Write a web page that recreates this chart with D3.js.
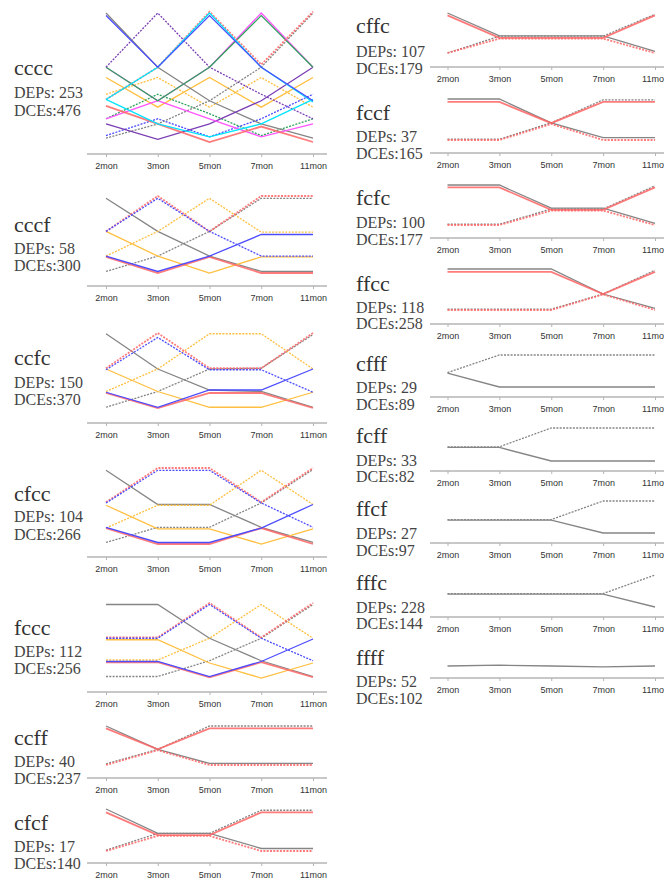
<!DOCTYPE html>
<html>
<head>
<meta charset="utf-8">
<script src="https://cdn.jsdelivr.net/npm/d3@7"></script>
<style>
  body { margin: 0; background: #fff; }
</style>
</head>
<body>
<div id="chart"></div>
<script>
const months = ["2mon", "3mon", "5mon", "7mon", "11mon"];
const patterns = ["cccc", "cccf", "ccfc", "cfcc", "fccc", "ccff", "cfcf",
                  "cffc", "fccf", "fcfc", "ffcc", "cfff", "fcff", "ffcf", "fffc", "ffff"];
const deps = [253, 58, 150, 104, 112, 40, 17, 107, 37, 100, 118, 29, 33, 27, 228, 52];
const dces = [476, 300, 370, 266, 256, 237, 140, 179, 165, 177, 258, 89, 82, 97, 144, 102];

// relative expression level (0 = lowest line, 100 = highest) at each month
// series: [group, kind, values]
const cccc = [
  ["orange", "solid", [50, 27, 50, 27, 50]],
  ["orange", "dash", [37, 50, 27, 50, 27]],
  ["green", "dash", [18, 37, 22, 5, 18]],
  ["blue", "dash", [5, 18, 4, 18, 37]],
  ["purple", "dash", [58, 100, 58, 37, 18]],
  ["gray", "dash", [3, 14, 32, 58, 100]],
  ["gray", "solid", [100, 58, 32, 14, 3]],
  ["purple", "solid", [14, 2, 14, 32, 58]],
  ["magenta", "solid", [58, 32, 18, 4, 14]],
  ["magenta", "solid", [18, 32, 58, 100, 58]],
  ["green", "solid", [58, 32, 58, 98, 58]],
  ["red", "solid", [28, 14, 0, 12, 0]],
  ["red", "dash", [33, 58, 101, 60, 101]],
  ["cyan", "solid", [33, 14, 4, 14, 33]],
  ["cyan", "solid", [33, 58, 100, 58, 31]],
  ["blue", "solid", [98, 58, 98, 58, 32]]
];
const cccf = [
  ["gray", "solid", [97, 54, 22, 2, 2]],
  ["gray", "dash", [2, 22, 54, 97, 97]],
  ["orange", "solid", [54, 22, 0, 21, 21]],
  ["orange", "dash", [22, 54, 97, 53, 53]],
  ["red", "solid", [21, 0, 21, 0, 0]],
  ["red", "dash", [54, 100, 54, 100, 100]],
  ["blue", "solid", [22, 2, 22, 50, 50]],
  ["blue", "dash", [54, 97, 54, 22, 22]]
];
const ccfc = [
  ["gray", "solid", [99, 52, 24, 22, 1]],
  ["gray", "dash", [1, 22, 52, 53, 98]],
  ["orange", "solid", [52, 22, 1, 1, 21]],
  ["orange", "dash", [22, 52, 99, 99, 52]],
  ["red", "solid", [20, 0, 20, 20, 0]],
  ["red", "dash", [53, 100, 53, 53, 100]],
  ["blue", "solid", [21, 1, 24, 24, 52]],
  ["blue", "dash", [51, 94, 51, 51, 21]]
];
const cfcc = [
  ["gray", "solid", [97, 52, 52, 22, 2]],
  ["gray", "dash", [2, 22, 22, 54, 98]],
  ["orange", "solid", [51, 20, 20, 0, 20]],
  ["orange", "dash", [21, 51, 51, 97, 52]],
  ["red", "solid", [21, 0, 0, 21, 0]],
  ["red", "dash", [55, 100, 100, 55, 100]],
  ["blue", "solid", [22, 2, 2, 21, 52]],
  ["blue", "dash", [54, 97, 97, 54, 22]]
];
const fccc = [
  ["gray", "solid", [98, 98, 53, 23, 2]],
  ["gray", "dash", [2, 2, 23, 53, 98]],
  ["orange", "solid", [51, 51, 20, 0, 20]],
  ["orange", "dash", [24, 24, 53, 98, 53]],
  ["red", "solid", [21, 21, 1, 21, 1]],
  ["red", "dash", [54, 54, 100, 54, 100]],
  ["blue", "solid", [22, 22, 2, 22, 52]],
  ["blue", "dash", [53, 53, 98, 53, 23]]
];
const ccff = [
  ["gray", "solid", [100, 40, 4, 4, 4]],
  ["gray", "dash", [3, 40, 100, 100, 100]],
  ["red", "solid", [94, 40, 94, 94, 94]],
  ["red", "dash", [0, 38, 0, 0, 0]]
];
const cfcf = [
  ["gray", "solid", [100, 42, 42, 6, 6]],
  ["gray", "dash", [2, 42, 42, 97, 97]],
  ["red", "solid", [92, 38, 38, 92, 92]],
  ["red", "dash", [0, 36, 36, 0, 0]]
];
const cffc = [
  ["gray", "solid", [100, 43, 43, 43, 4]],
  ["gray", "dash", [0, 42, 42, 42, 97]],
  ["red", "solid", [94, 38, 38, 38, 94]],
  ["red", "dash", [0, 36, 36, 36, 0]]
];
const fccf = [
  ["gray", "solid", [100, 100, 42, 6, 6]],
  ["gray", "dash", [2, 2, 42, 98, 98]],
  ["red", "solid", [93, 93, 41, 93, 93]],
  ["red", "dash", [0, 0, 39, 0, 0]]
];
const fcfc = [
  ["gray", "solid", [100, 100, 42, 42, 4]],
  ["gray", "dash", [2, 2, 40, 40, 98]],
  ["red", "solid", [94, 94, 38, 38, 94]],
  ["red", "dash", [0, 0, 36, 36, 0]]
];
const ffcc = [
  ["gray", "solid", [100, 100, 100, 39, 4]],
  ["gray", "dash", [2, 2, 2, 39, 97]],
  ["red", "solid", [93, 93, 93, 39, 93]],
  ["red", "dash", [0, 0, 0, 38, 0]]
];
const cfff = [
  ["gray", "solid", [43, 0, 0, 0, 0]],
  ["gray", "dash", [45, 100, 100, 100, 100]]
];
const fcff = [
  ["gray", "solid", [41, 41, 0, 0, 0]],
  ["gray", "dash", [43, 43, 100, 100, 100]]
];
const ffcf = [
  ["gray", "solid", [40, 40, 40, 0, 0]],
  ["gray", "dash", [42, 42, 42, 100, 100]]
];
const fffc = [
  ["gray", "solid", [40, 40, 40, 40, 0]],
  ["gray", "dash", [42, 42, 42, 42, 100]]
];
const ffff = [
  ["gray", "solid", [50, 52, 50, 48, 50]]
];
const seriesByPattern = {cccc, cccf, ccfc, cfcc, fccc, ccff, cfcf,
                         cffc, fccf, fcfc, ffcc, cfff, fcff, ffcf, fffc, ffff};

// layout of each panel: column, line top/bottom, axis y, text baselines
const layout = {
  cccc: {col: 0, top: 13, bottom: 142, axis: 154, t: 75, d: 98, e: 116},
  cccf: {col: 0, top: 196, bottom: 273, axis: 286, t: 232, d: 254, e: 271},
  ccfc: {col: 0, top: 333, bottom: 408, axis: 423, t: 365, d: 388, e: 405},
  cfcc: {col: 0, top: 468, bottom: 544, axis: 557, t: 501, d: 522, e: 540},
  fccc: {col: 0, top: 603, bottom: 678, axis: 692, t: 635, d: 657, e: 674},
  ccff: {col: 0, top: 726, bottom: 765, axis: 778, t: 745, d: 767, e: 784},
  cfcf: {col: 0, top: 809, bottom: 851, axis: 863, t: 830, d: 852, e: 869},
  cffc: {col: 1, top: 13, bottom: 53, axis: 67, t: 33, d: 57, e: 74},
  fccf: {col: 1, top: 99, bottom: 140, axis: 153, t: 120, d: 142, e: 159},
  fcfc: {col: 1, top: 185, bottom: 225, axis: 238, t: 205, d: 228, e: 245},
  ffcc: {col: 1, top: 269, bottom: 310, axis: 324, t: 291, d: 313, e: 329},
  cfff: {col: 1, top: 355, bottom: 387, axis: 397, t: 371, d: 393, e: 410},
  fcff: {col: 1, top: 428, bottom: 461, axis: 471, t: 443, d: 466, e: 482},
  ffcf: {col: 1, top: 501, bottom: 533, axis: 543, t: 516, d: 539, e: 556},
  fffc: {col: 1, top: 575, bottom: 607, axis: 617, t: 590, d: 613, e: 629},
  ffff: {col: 1, top: 646, bottom: 686, axis: 678, t: 665, d: 687, e: 704}
};
const cols = [
  {textX: 14, x0: 106, x1: 313, ax0: 87, ax1: 327},
  {textX: 356, x0: 447.5, x1: 655, ax0: 430, ax1: 664}
];
const colors = {red: "#ff6464", blue: "#4c4cff", gray: "#858585", orange: "#ffbf40",
                 cyan: "#00e4ff", purple: "#7a3db3", green: "#2fa35c", magenta: "#ff55ff"};

var svg = d3.select("#chart")
  .append("svg")
  .attr("width", 664)
  .attr("height", 882);

patterns.forEach(function(name, i) {
  var L = layout[name], C = cols[L.col];
  var x = d3.scalePoint().domain(months).range([C.x0, C.x1]);
  var y = d3.scaleLinear().domain([0, 100]).range([L.bottom, L.top]);
  var g = svg.append("g");

  // axis
  g.append("line")
    .attr("x1", C.ax0).attr("x2", C.ax1)
    .attr("y1", L.axis).attr("y2", L.axis)
    .attr("stroke", "#b4b4b4")
    .attr("stroke-width", 1.5);
  var ax = g.append("g")
    .attr("transform", `translate(0,${L.axis})`)
    .call(d3.axisBottom(x).tickSize(3).tickSizeOuter(0).tickPadding(6));
  ax.select(".domain").remove();
  ax.selectAll(".tick line").attr("stroke", "#b4b4b4");
  ax.selectAll(".tick text")
    .attr("font-family", "Liberation Sans, Arial, sans-serif")
    .attr("font-size", 9)
    .attr("fill", "#333");

  var line = d3.line()
    .x((d, j) => x(months[j]))
    .y(d => y(d));

  g.selectAll("path.profile")
    .data(seriesByPattern[name])
    .join("path")
      .attr("class", "profile")
      .attr("fill", "none")
      .attr("stroke", d => colors[d[0]])
      .attr("stroke-width", d => d[0] == "red" ? 1.8 : 1.3)
      .attr("stroke-opacity", d => d[0] == "red" ? 0.85 : 1)
      .attr("stroke-dasharray", d => d[1] == "dash" ? "2,1.3" : null)
      .attr("d", d => line(d[2]));

  // labels
  var fam = "Liberation Serif, Times New Roman, serif";
  g.append("text")
    .attr("x", C.textX).attr("y", L.t)
    .attr("font-family", fam).attr("font-size", 22)
    .attr("fill", "#333")
    .text(name);
  g.append("text")
    .attr("x", C.textX).attr("y", L.d)
    .attr("font-family", fam).attr("font-size", 16)
    .attr("fill", "#444")
    .text("DEPs: " + deps[i]);
  g.append("text")
    .attr("x", C.textX).attr("y", L.e)
    .attr("font-family", fam).attr("font-size", 16)
    .attr("fill", "#444")
    .text("DCEs:" + dces[i]);
});
</script>
</body>
</html>
